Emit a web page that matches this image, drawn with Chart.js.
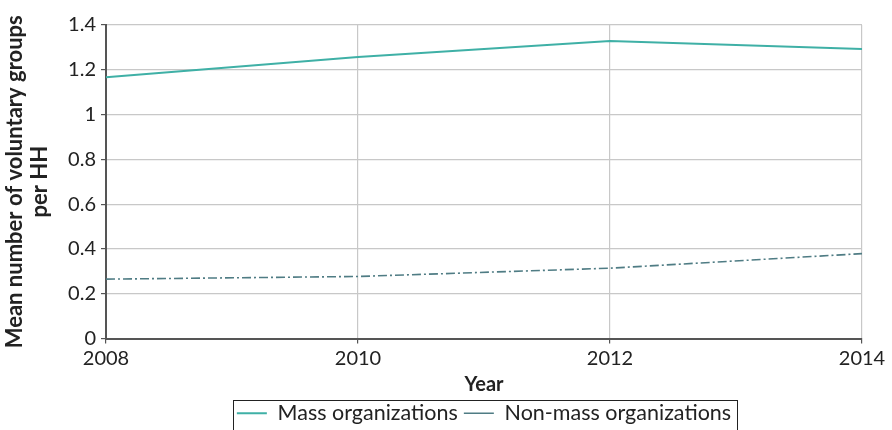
<!DOCTYPE html>
<html>
<head>
<meta charset="utf-8">
<script src="https://cdn.jsdelivr.net/npm/chart.js@4"></script>
<style>
  html, body { margin: 0; padding: 0; background: #fff; }
  #wrap { width: 892px; height: 430px; }
</style>
</head>
<body>
<div id="wrap"><canvas id="myChart" width="892" height="430"></canvas></div>
<script>
const years = ['2008', '2010', '2012', '2014'];
const massOrgs = [1.167, 1.257, 1.328, 1.293];
const nonMassOrgs = [0.265, 0.277, 0.314, 0.379];
const yTicks = [0, 0.2, 0.4, 0.6, 0.8, 1, 1.2, 1.4];

const FONT = "Lato, 'Open Sans', sans-serif";

// draws the thin black frame round the legend items
const legendFrame = {
    id: 'legendFrame',
    afterDraw(chart) {
        const lg = chart.legend;
        if (!lg || !lg.legendHitBoxes || !lg.legendHitBoxes.length) return;
        let l = Infinity, r = -Infinity, t = Infinity, b = -Infinity;
        lg.legendHitBoxes.forEach(h => {
            l = Math.min(l, h.left); r = Math.max(r, h.left + h.width);
            t = Math.min(t, h.top); b = Math.max(b, h.top + h.height);
        });
        const ctx = chart.ctx;
        ctx.save();
        ctx.strokeStyle = '#222';
        ctx.lineWidth = 1;
        ctx.strokeRect(Math.round(l - 4) + 0.5, Math.round(t - 3) + 0.5, Math.round(r - l + 10), Math.round(b - t + 14));
        ctx.restore();
    }
};

const ctx = document.getElementById('myChart').getContext('2d');
new Chart(ctx, {
    type: 'line',
    data: {
        labels: years,
        datasets: [
            {
                label: 'Mass organizations',
                data: massOrgs,
                borderColor: '#3fb0a6',
                backgroundColor: '#3fb0a6',
                borderWidth: 2,
                pointRadius: 0,
                tension: 0
            },
            {
                label: 'Non-mass organizations',
                data: nonMassOrgs,
                borderColor: '#4f7c84',
                backgroundColor: '#4f7c84',
                borderWidth: 1.6,
                borderDash: [9, 3, 2, 3],
                pointRadius: 0,
                tension: 0
            }
        ]
    },
    options: {
        responsive: false,
        animation: false,
        events: [],
        layout: { padding: { left: 0, right: 30, top: 25, bottom: -4 } },
        scales: {
            x: {
                type: 'category',
                offset: false,
                title: {
                    display: true,
                    text: 'Year',
                    color: '#222',
                    font: { family: FONT, size: 20, weight: 'bold' },
                    padding: { top: 4, bottom: 0 }
                },
                ticks: {
                    color: '#222',
                    font: { family: FONT, size: 20 },
                    padding: 3,
                    maxRotation: 0
                },
                grid: {
                    color: '#c8c8c8',
                    lineWidth: 1.2,
                    tickColor: '#555',
                    tickLength: 5,
                    drawTicks: true
                },
                border: { color: '#555', width: 2 },
                afterFit(scale) { scale.height = 58; }
            },
            y: {
                min: 0,
                max: 1.4,
                afterBuildTicks(scale) {
                    scale.ticks = yTicks.map(v => ({ value: v }));
                },
                title: {
                    display: true,
                    text: ['Mean number of voluntary groups', 'per HH'],
                    color: '#222',
                    font: { family: FONT, size: 22, weight: 'bold', lineHeight: 1.15 },
                    padding: { top: 2, bottom: 0 }
                },
                ticks: {
                    color: '#222',
                    font: { family: FONT, size: 20 },
                    padding: 5,
                    callback: v => String(Math.round(v * 10) / 10)
                },
                grid: {
                    color: '#c8c8c8',
                    lineWidth: 1.2,
                    tickColor: '#555',
                    tickLength: 5
                },
                border: { color: '#555', width: 2 },
                afterFit(scale) { scale.width = 106; }
            }
        },
        plugins: {
            legend: {
                position: 'bottom',
                fullSize: false,
                labels: {
                    color: '#222',
                    font: { family: FONT, size: 21.5 },
                    usePointStyle: true,
                    pointStyle: 'line',
                    pointStyleWidth: 30,
                    boxHeight: 10,
                    padding: 6
                }
            },
            tooltip: { enabled: false }
        }
    },
    plugins: [legendFrame]
});
</script>
</body>
</html>
